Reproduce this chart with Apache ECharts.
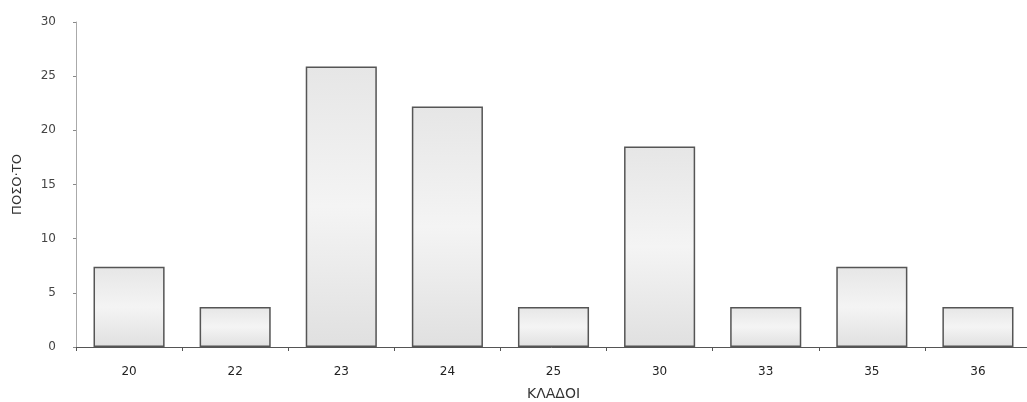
<!DOCTYPE html>
<html><head><meta charset="utf-8">
<script src="https://cdn.jsdelivr.net/npm/echarts@6/dist/echarts.min.js"></script>
<style>html,body{margin:0;padding:0;background:#fff}#c{width:1027px;height:402px}</style>
</head><body><div id="c"></div>
<script>
const categories = ['20','22','23','24','25','30','33','35','36'];
const values = [7.4, 3.7, 25.9, 22.2, 3.7, 18.5, 3.7, 7.4, 3.7];
const yTicks = [0, 5, 10, 15, 20, 25, 30];
const xName = 'ΚΛΑΔΟΙ';
const yName = 'ΠΟΣΟ·ΤΟ';

const chart = echarts.init(document.getElementById('c'));
const font = 'DejaVu Sans';
chart.setOption({
  animation: false,
  grid: { left: 76, right: -4, top: 22, bottom: 55, outerBoundsMode: 'none', containLabel: false },
  xAxis: {
    type: 'category', data: categories,
    name: xName, nameLocation: 'middle', nameGap: 40,
    nameTextStyle: { fontFamily: font, fontSize: 14, color: '#333' },
    axisLine: { lineStyle: { color: '#555', width: 1 } },
    axisTick: { show: true, alignWithLabel: false, length: 4, lineStyle: { color: '#555' } },
    axisLabel: { fontFamily: font, fontSize: 12, color: '#222', margin: 19 }
  },
  yAxis: {
    type: 'value', min: yTicks[0], max: yTicks[yTicks.length-1], interval: 5,
    name: yName, nameLocation: 'middle', nameGap: 52, nameRotate: 90,
    nameTextStyle: { fontFamily: font, fontSize: 13, color: '#333' },
    axisLine: { show: true, lineStyle: { color: '#aaa', width: 1 } },
    axisTick: { show: true, length: 3, inside: false, lineStyle: { color: '#888' } },
    splitLine: { show: false },
    axisLabel: { fontFamily: font, fontSize: 12, color: '#444', margin: 20 }
  },
  series: [{
    type: 'bar', data: values, barCategoryGap: '33%',
    itemStyle: {
      color: { type: 'linear', x: 0, y: 0, x2: 0, y2: 1, colorStops: [
        { offset: 0, color: '#e6e6e6' }, { offset: 0.5, color: '#f4f4f4' }, { offset: 1, color: '#e0e0e0' } ] },
      borderColor: '#555', borderWidth: 1.5
    }
  }]
});
</script></body></html>
